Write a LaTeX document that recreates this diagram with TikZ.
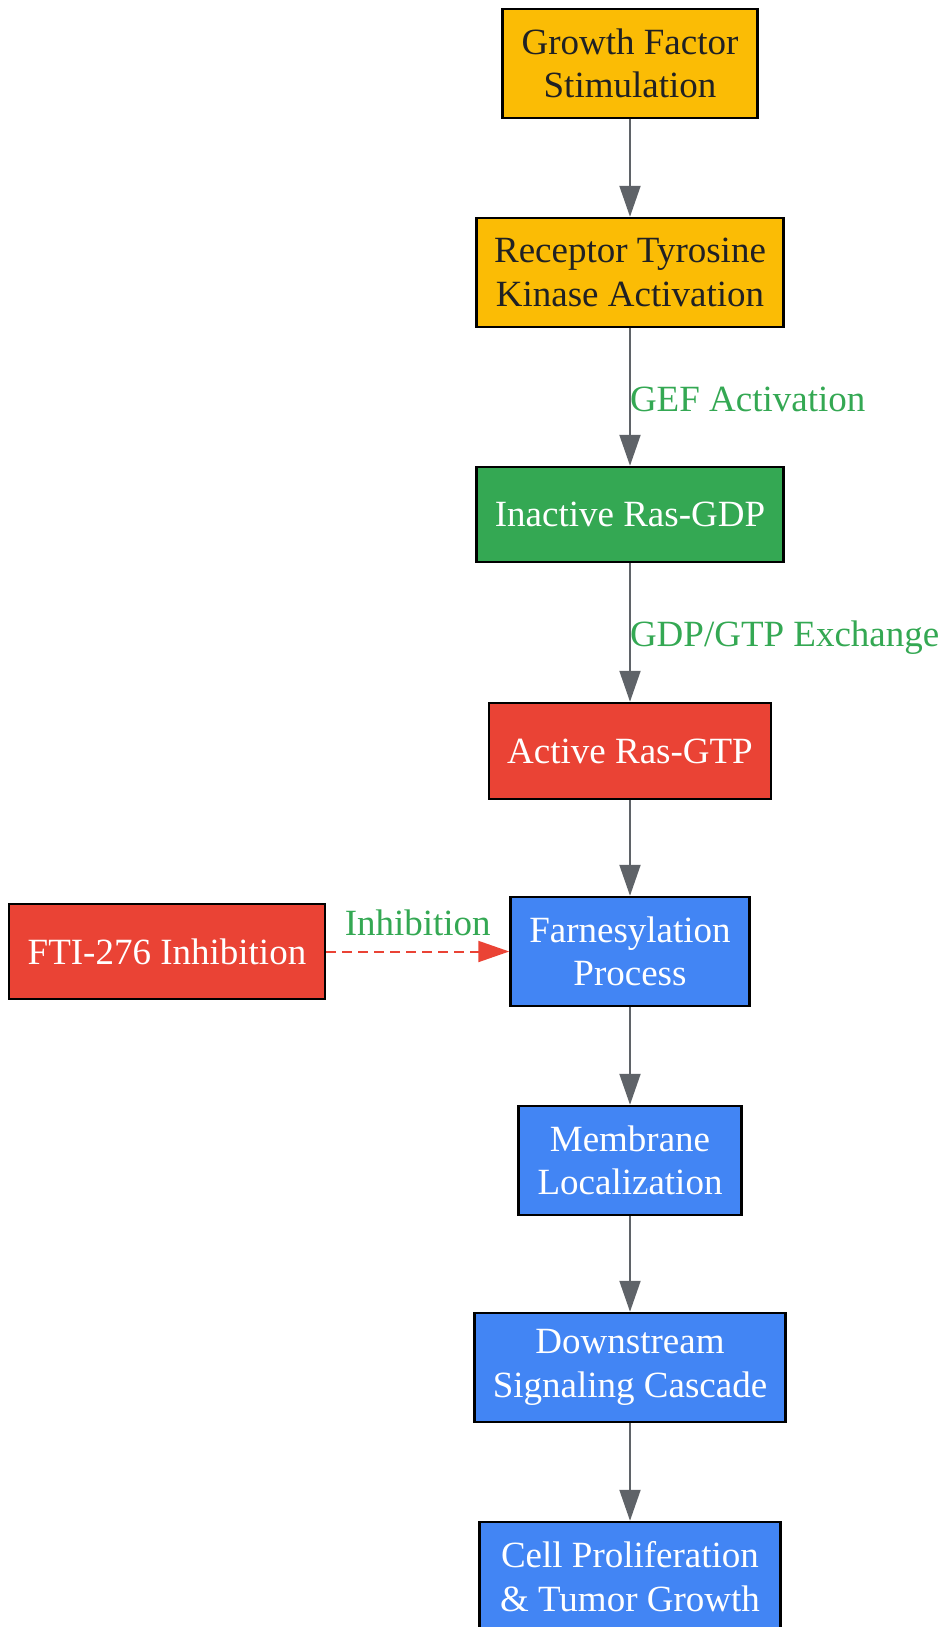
\documentclass[tikz,border=0pt]{standalone}
\usepackage{fontspec}
\setmainfont{Liberation Serif}
\usetikzlibrary{arrows.meta}
\definecolor{cyel}{HTML}{FBBC05}
\definecolor{cgrn}{HTML}{34A853}
\definecolor{cred}{HTML}{EA4335}
\definecolor{cblu}{HTML}{4285F4}
\definecolor{cgry}{HTML}{5F6368}
\definecolor{cdark}{HTML}{202124}
\begin{document}
\begin{tikzpicture}[x=1pt,y=-1pt,
  box/.style={draw=black,line width=2.5pt,inner sep=0pt,align=center,font=\fontsize{37}{43.6}\selectfont},
  yel/.style={box,fill=cyel,text=cdark},
  grn/.style={box,fill=cgrn,text=white},
  red/.style={box,fill=cred,text=white},
  blu/.style={box,fill=cblu,text=white},
  edge/.style={draw=cgry,line width=2pt,-{Triangle[length=31pt,width=21pt]}},
  inh/.style={draw=cred,line width=2pt,dash pattern=on 10pt off 6pt,-{Triangle[length=31pt,width=21pt]}},
  elab/.style={text=cgrn,inner sep=0pt,font=\fontsize{37}{43.6}\selectfont}]
\useasboundingbox (0,0) rectangle (940,1627);
\node[yel,minimum width=255pt,minimum height=109pt] (gf) at (630,63.5) {Growth Factor\\Stimulation};
\node[yel,minimum width=307pt,minimum height=109pt] (rtk) at (630,272.5) {Receptor Tyrosine\\Kinase Activation};
\node[grn,minimum width=307pt,minimum height=95pt] (gdp) at (630,514.5) {Inactive Ras-GDP};
\node[red,minimum width=282pt,minimum height=96pt] (gtp) at (630,751) {Active Ras-GTP};
\node[blu,minimum width=239pt,minimum height=109pt] (far) at (630,951.5) {Farnesylation\\Process};
\node[red,minimum width=316pt,minimum height=95pt] (fti) at (167,951.5) {FTI-276 Inhibition};
\node[blu,minimum width=223pt,minimum height=109pt] (mem) at (630,1160.5) {Membrane\\Localization};
\node[blu,minimum width=311pt,minimum height=109pt] (dsc) at (630,1367.5) {Downstream\\Signaling Cascade};
\node[blu,minimum width=301pt,minimum height=109pt] (cel) at (630,1576.5) {Cell Proliferation\\\& Tumor Growth};
\draw[edge] (gf) -- (rtk);
\draw[edge] (rtk) -- node[elab,anchor=west,xshift=-1pt,yshift=-2pt] {GEF Activation} (gdp);
\draw[edge] (gdp) -- node[elab,anchor=west,xshift=-1pt,yshift=-5pt] {GDP/GTP Exchange} (gtp);
\draw[edge] (gtp) -- (far);
\draw[edge] (far) -- (mem);
\draw[edge] (mem) -- (dsc);
\draw[edge] (dsc) -- (cel);
\draw[inh] (fti) -- node[elab,yshift=29pt] {Inhibition} (far);
\end{tikzpicture}
\end{document}
